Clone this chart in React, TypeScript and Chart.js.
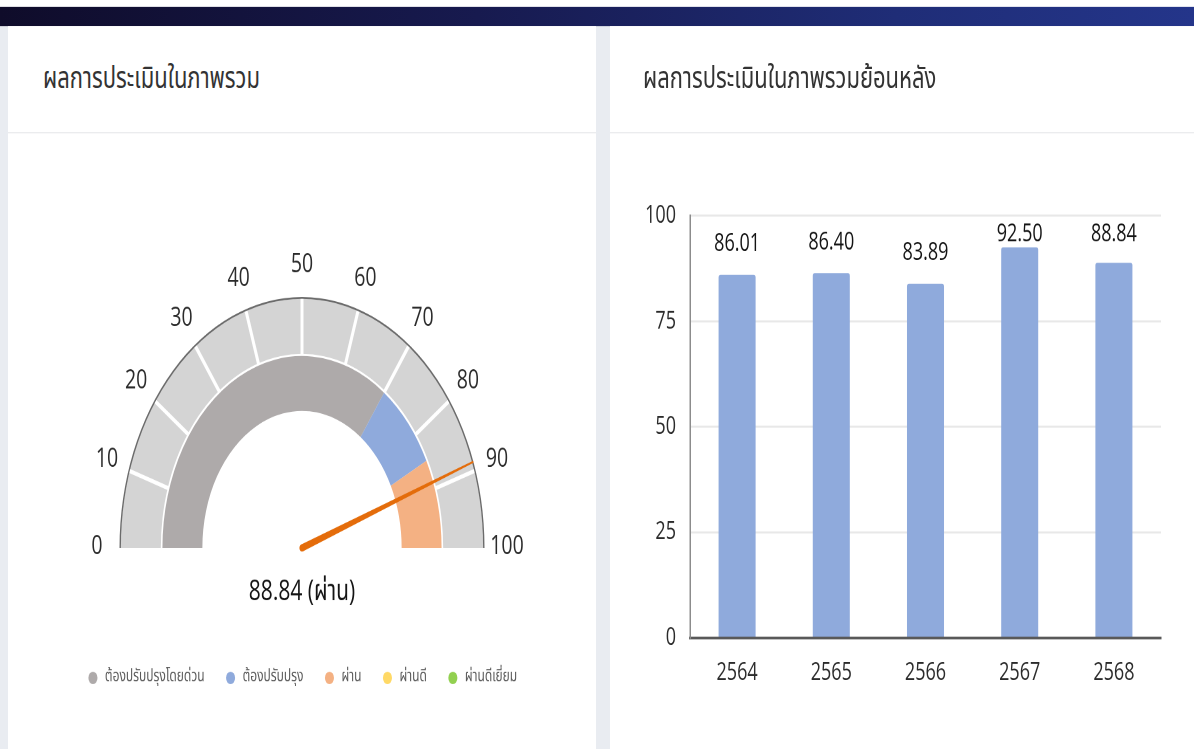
import React, { useEffect, useRef } from 'react';
import { Chart, registerables } from 'chart.js';

Chart.register(...registerables);

// ---------- data ----------
const gaugeTicks = [0, 10, 20, 30, 40, 50, 60, 70, 80, 90, 100];
const scaleSegments = [10, 10, 10, 10, 10, 10, 10, 10, 10, 10];
const bandLabels = ['ต้องปรับปรุงโดยด่วน', 'ต้องปรับปรุง', 'ผ่าน', 'ผ่านดี', 'ผ่านดีเยี่ยม'];
const bandValues = [70, 15, 15, 0, 0];
const bandColors = ['#aeaaaa', '#8faadc', '#f4b183', '#ffd966', '#92d050'];
const score = 88.84;
const scoreLabel = 'ผ่าน';

const years = ['2564', '2565', '2566', '2567', '2568'];
const yearScores = [86.01, 86.4, 83.89, 92.5, 88.84];
const yTicks = [0, 25, 50, 75, 100];

const titleLeft = 'ผลการประเมินในภาพรวม';
const titleRight = 'ผลการประเมินในภาพรวมย้อนหลัง';

// ---------- styling ----------
const NUM_FONT = '"Open Sans", "Noto Sans", "Noto Sans Thai", "Sarabun", "Loma", "Garuda", sans-serif';
const THAI_FONT = '"Noto Sans Thai", "Noto Sans Thai UI", "Sarabun", "Loma", "Garuda", "Kinnari", "Open Sans", "Noto Sans", sans-serif';
const SY = 1.375;

const gaugePlugin = {
  id: 'gaugeDecor',
  afterDatasetsDraw(chart: any) {
    const ctx = chart.ctx as CanvasRenderingContext2D;
    const meta = chart.getDatasetMeta(1);
    const first = meta.data[0] as any;
    const cx = first.x;
    const cy = first.y;
    const ri = first.innerRadius;
    const ro = first.outerRadius;
    const outline = chart.getDatasetMeta(0).data[0] as any;
    const rOut = outline.outerRadius;
    ctx.save();
    // separators
    ctx.strokeStyle = '#ffffff';
    ctx.lineWidth = 3;
    meta.data.forEach((a: any, i: number) => {
      if (i === 0) return;
      const ang = a.startAngle;
      ctx.beginPath();
      ctx.moveTo(cx + Math.cos(ang) * (ri - 1), cy + Math.sin(ang) * (ri - 1));
      ctx.lineTo(cx + Math.cos(ang) * ro, cy + Math.sin(ang) * ro);
      ctx.stroke();
    });
    // tick labels
    ctx.fillStyle = '#2b2b2b';
    ctx.font = `19.5px ${NUM_FONT}`;
    ctx.textAlign = 'center';
    ctx.textBaseline = 'middle';
    gaugeTicks.forEach((v) => {
      const ang = Math.PI + (Math.PI * v) / 100;
      const r = rOut + 22.5;
      ctx.fillText(String(v), cx + Math.cos(ang) * r, cy + Math.sin(ang) * r - 1);
    });
    // needle
    const ang = Math.PI + (Math.PI * score) / 100;
    const tipR = rOut;
    const ux = Math.cos(ang);
    const uy = Math.sin(ang);
    const px = -uy;
    const py = ux;
    const wb = 2.6;
    const wt = 0.7;
    ctx.fillStyle = '#e46c0a';
    ctx.beginPath();
    ctx.moveTo(cx + px * wb, cy + py * wb);
    ctx.lineTo(cx + ux * tipR + px * wt, cy + uy * tipR + py * wt);
    ctx.lineTo(cx + ux * tipR - px * wt, cy + uy * tipR - py * wt);
    ctx.lineTo(cx - px * wb, cy - py * wb);
    ctx.closePath();
    ctx.fill();
    ctx.beginPath();
    ctx.arc(cx, cy, wb, 0, Math.PI * 2);
    ctx.fill();
    // center text
    ctx.fillStyle = '#141414';
    ctx.font = `21px ${NUM_FONT}`;
    ctx.fillText(`${score.toFixed(2)} (${scoreLabel})`, cx, cy + 32);
    ctx.restore();
  },
};

const barLabelPlugin = {
  id: 'barValues',
  afterDatasetsDraw(chart: any) {
    const ctx = chart.ctx as CanvasRenderingContext2D;
    const meta = chart.getDatasetMeta(0);
    ctx.save();
    ctx.fillStyle = '#141414';
    ctx.font = `18px ${NUM_FONT}`;
    ctx.textAlign = 'center';
    ctx.textBaseline = 'middle';
    meta.data.forEach((bar: any, i: number) => {
      const y = Math.max(bar.y - 22.5, chart.chartArea.top + 13.5);
      ctx.fillText(yearScores[i].toFixed(2), bar.x, y);
    });
    ctx.restore();
  },
};

export default function App() {
  const gaugeRef = useRef<HTMLCanvasElement>(null);
  const barRef = useRef<HTMLCanvasElement>(null);

  useEffect(() => {
    const gauge = new Chart(gaugeRef.current as HTMLCanvasElement, {
      type: 'doughnut',
      data: {
        labels: bandLabels,
        datasets: [
          { label: 'outline', data: [100], backgroundColor: ['#6b6b6b'], borderWidth: 0, weight: 1.4 } as any,
          { label: 'scale', data: scaleSegments, backgroundColor: '#d4d4d4', borderWidth: 0, weight: 40 } as any,
          { label: 'gap', data: [100], backgroundColor: ['rgba(255,255,255,0)'], borderWidth: 0, weight: 1.6 } as any,
          { label: 'bands', data: bandValues, backgroundColor: bandColors, borderWidth: 0, weight: 40 } as any,
        ],
      },
      options: {
        animation: false,
        responsive: true,
        maintainAspectRatio: false,
        devicePixelRatio: 2,
        circumference: 180,
        rotation: -90,
        cutout: '54.6%',
        radius: 182.5,
        layout: { padding: { top: 49.5, bottom: 36, left: 0, right: 0 } },
        plugins: {
          tooltip: { enabled: false },
          legend: {
            position: 'bottom',
            labels: {
              usePointStyle: true,
              boxWidth: 14,
              boxHeight: 6.4,
              padding: 20,
              color: '#595959',
              font: { size: 12, family: THAI_FONT },
              generateLabels: () =>
                bandLabels.map((t, i) => ({
                  text: t,
                  fillStyle: bandColors[i],
                  strokeStyle: bandColors[i],
                  lineWidth: 0,
                  pointStyle: 'circle',
                  hidden: false,
                  index: i,
                  fontColor: '#595959',
                })) as any,
            },
          },
        },
      } as any,
      plugins: [gaugePlugin],
    });

    const bar = new Chart(barRef.current as HTMLCanvasElement, {
      type: 'bar',
      data: {
        labels: years,
        datasets: [
          {
            label: 'score',
            data: yearScores,
            backgroundColor: '#8faadc',
            borderRadius: 2,
            borderSkipped: 'bottom',
            barPercentage: 0.393,
            categoryPercentage: 1,
          } as any,
        ],
      },
      options: {
        animation: false,
        responsive: true,
        maintainAspectRatio: false,
        devicePixelRatio: 2,
        layout: { padding: { top: 58.9, right: 33, left: 0, bottom: 0 } },
        plugins: { legend: { display: false }, tooltip: { enabled: false } },
        scales: {
          x: {
            grid: { display: false, drawTicks: false },
            border: { display: true, color: '#595959', width: 2 },
            ticks: { color: '#2b2b2b', font: { size: 18, family: NUM_FONT }, padding: 15 },
            afterFit: (s: any) => {
              s.height = 81.2;
            },
          },
          y: {
            min: 0,
            max: 100,
            afterBuildTicks: (s: any) => {
              s.ticks = yTicks.map((v) => ({ value: v }));
            },
            grid: { color: '#e8e8e8', lineWidth: 1.5, drawTicks: false },
            border: { display: true, color: '#8c8c8c', width: 1.5 },
            ticks: { color: '#2b2b2b', font: { size: 18, family: NUM_FONT }, padding: 14 },
            afterFit: (s: any) => {
              s.width = 80;
            },
          },
        },
      } as any,
      plugins: [barLabelPlugin],
    });

    return () => {
      gauge.destroy();
      bar.destroy();
    };
  }, []);

  const titleStyle: React.CSSProperties = {
    position: 'absolute',
    top: 0,
    height: 77,
    display: 'flex',
    alignItems: 'center',
    fontFamily: THAI_FONT,
    fontSize: 22,
    color: '#333333',
    whiteSpace: 'nowrap',
  };

  return (
    <div style={{ position: 'fixed', left: 0, top: 0, width: 1194, height: 749, overflow: 'hidden', background: '#e9ecf1' }}>
      <div
        style={{
          position: 'absolute',
          left: 0,
          top: 0,
          width: 1194,
          height: 545,
          transform: `scale(1, ${SY})`,
          transformOrigin: '0 0',
        }}
      >
        <div style={{ position: 'absolute', left: 0, top: 0, width: 1194, height: 4.9, background: '#ffffff' }} />
        <div
          style={{
            position: 'absolute',
            left: 0,
            top: 4.9,
            width: 1194,
            height: 14,
            background: 'linear-gradient(90deg, #0f0c2a 0%, #171a4f 40%, #1f2d77 75%, #24358a 100%)',
          }}
        />
        {/* left card */}
        <div style={{ position: 'absolute', left: 8, top: 18.9, width: 588, height: 540, background: '#ffffff' }}>
          <div style={{ ...titleStyle, left: 35 }}>{titleLeft}</div>
          <div style={{ position: 'absolute', left: 0, top: 77, width: 588, height: 1.6, background: '#ebecee' }} />
        </div>
        {/* right card */}
        <div style={{ position: 'absolute', left: 610, top: 18.9, width: 600, height: 540, background: '#ffffff' }}>
          <div style={{ ...titleStyle, left: 33 }}>{titleRight}</div>
          <div style={{ position: 'absolute', left: 0, top: 77, width: 600, height: 1.6, background: '#ebecee' }} />
        </div>
        <div style={{ position: 'absolute', left: 8, top: 98, width: 588, height: 447 }}>
          <canvas ref={gaugeRef} />
        </div>
        <div style={{ position: 'absolute', left: 610, top: 98, width: 584, height: 447 }}>
          <canvas ref={barRef} />
        </div>
      </div>
    </div>
  );
}
